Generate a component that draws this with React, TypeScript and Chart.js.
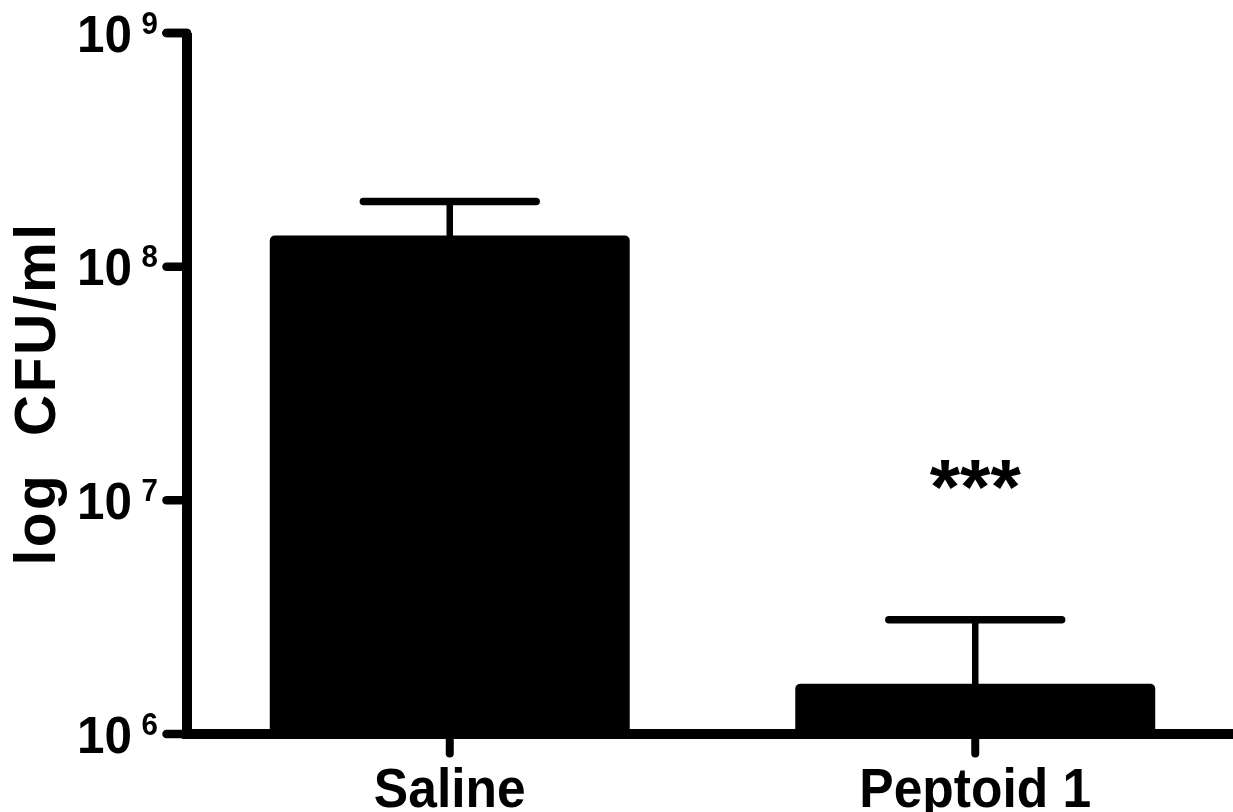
import React, { useEffect, useRef } from 'react';
import { Chart, registerables } from 'chart.js';

Chart.register(...registerables);

// ---- data ----
const categories = ['Saline', 'Peptoid 1'];
const meanValues = [1.36e8, 1.64e6];
const errorUpper = [1.9e8, 3.08e6];
const significance = ['', '***'];
const yTickValues = [1e6, 1e7, 1e8, 1e9];
const yTickBase = ['10', '10', '10', '10'];
const yTickExponents = ['6', '7', '8', '9'];
const yAxisTitle = 'log  CFU/ml';

const FONT = '"Liberation Sans", Arial, Helvetica, sans-serif';

function drawText(
  ctx: CanvasRenderingContext2D,
  text: string,
  x: number,
  y: number,
  size: number,
  align: CanvasTextAlign,
  sx = 0.9
) {
  ctx.save();
  ctx.translate(x, y);
  ctx.scale(sx, 1);
  ctx.font = `bold ${size}px ${FONT}`;
  ctx.textAlign = align;
  ctx.textBaseline = 'alphabetic';
  ctx.fillStyle = '#000';
  ctx.fillText(text, 0, 0);
  ctx.restore();
}

const prismPlugin = {
  id: 'prismStyle',
  afterDatasetsDraw(chart: any) {
    const ctx: CanvasRenderingContext2D = chart.ctx;
    const xs = chart.scales.x;
    const ys = chart.scales.y;
    const area = chart.chartArea;
    const meta = chart.getDatasetMeta(0);

    ctx.save();
    ctx.strokeStyle = '#000';
    // error bars
    meta.data.forEach((bar: any, i: number) => {
      const cx = bar.x;
      const yTop = bar.y;
      const yErr = ys.getPixelForValue(errorUpper[i]);
      const half = bar.width * 0.24;
      ctx.lineWidth = 6.5;
      ctx.lineCap = 'butt';
      ctx.beginPath();
      ctx.moveTo(cx, yTop + 2);
      ctx.lineTo(cx, yErr);
      ctx.stroke();
      ctx.lineWidth = 7.5;
      ctx.lineCap = 'round';
      ctx.beginPath();
      ctx.moveTo(cx - half, yErr);
      ctx.lineTo(cx + half, yErr);
      ctx.stroke();
    });

    const ax = area.left;
    const ay = area.bottom;
    // y ticks
    ctx.lineWidth = 8.5;
    ctx.lineCap = 'round';
    ctx.lineJoin = 'round';
    yTickValues.forEach((v) => {
      const py = ys.getPixelForValue(v);
      ctx.beginPath();
      ctx.moveTo(ax - 20.5, py);
      ctx.lineTo(ax, py);
      ctx.stroke();
    });
    // top corner
    ctx.beginPath();
    ctx.moveTo(ax - 20.5, area.top);
    ctx.lineTo(ax, area.top);
    ctx.lineTo(ax, area.top + 20);
    ctx.stroke();
    // y axis line
    ctx.lineWidth = 10;
    ctx.lineCap = 'butt';
    ctx.beginPath();
    ctx.moveTo(ax, area.top);
    ctx.lineTo(ax, ay);
    ctx.stroke();
    // x axis line
    ctx.beginPath();
    ctx.moveTo(ax - 5, ay);
    ctx.lineTo(chart.width + 5, ay);
    ctx.stroke();
    // x ticks
    ctx.lineWidth = 8;
    ctx.lineCap = 'round';
    categories.forEach((_, i) => {
      const px = xs.getPixelForValue(i);
      ctx.beginPath();
      ctx.moveTo(px, ay);
      ctx.lineTo(px, ay + 19.5);
      ctx.stroke();
    });
    ctx.restore();
  },
  afterDraw(chart: any) {
    const ctx: CanvasRenderingContext2D = chart.ctx;
    const xs = chart.scales.x;
    const ys = chart.scales.y;
    const area = chart.chartArea;

    // y tick labels
    yTickValues.forEach((v, i) => {
      const py = ys.getPixelForValue(v);
      drawText(ctx, yTickExponents[i], area.left - 29, py + 0.5, 31, 'right', 0.95);
      drawText(ctx, yTickBase[i], area.left - 55, py + 18.5, 52, 'right', 0.95);
    });

    // x labels
    categories.forEach((c, i) => {
      const px = xs.getPixelForValue(i);
      drawText(ctx, c, px, area.bottom + 72.5, 56, 'center', 0.92);
    });

    // significance
    significance.forEach((s, i) => {
      if (!s) return;
      const px = xs.getPixelForValue(i);
      const py = ys.getPixelForValue(errorUpper[i]) - 106;
      drawText(ctx, s, px, py, 78, 'center', 1);
    });

    // y title
    ctx.save();
    ctx.translate(55, (area.top + area.bottom) / 2 + 10);
    ctx.rotate(-Math.PI / 2);
    ctx.font = `bold 57px ${FONT}`;
    (ctx as any).letterSpacing = '2.5px';
    ctx.textAlign = 'center';
    ctx.textBaseline = 'alphabetic';
    ctx.fillStyle = '#000';
    ctx.fillText(yAxisTitle, 0, 0);
    ctx.restore();
  },
};

export default function App() {
  const ref = useRef<HTMLCanvasElement | null>(null);

  useEffect(() => {
    if (!ref.current) return;
    const chart = new Chart(ref.current, {
      type: 'bar',
      data: {
        labels: categories,
        datasets: [
          {
            data: meanValues,
            backgroundColor: '#000',
            borderWidth: 0,
            borderRadius: { topLeft: 5, topRight: 5, bottomLeft: 0, bottomRight: 0 },
            borderSkipped: 'bottom',
            barPercentage: 0.685,
            categoryPercentage: 1,
          },
        ],
      },
      options: {
        responsive: false,
        maintainAspectRatio: false,
        animation: false,
        layout: { padding: { left: 187, right: 2, top: 33, bottom: 78 } },
        plugins: { legend: { display: false }, tooltip: { enabled: false } },
        scales: {
          x: { type: 'category', display: false, offset: true, grid: { display: false } },
          y: { type: 'logarithmic', display: false, min: 1e6, max: 1e9 },
        },
      },
      plugins: [prismPlugin],
    });
    return () => chart.destroy();
  }, []);

  return (
    <div
      style={{
        position: 'fixed',
        left: 0,
        top: 0,
        width: 1233,
        height: 812,
        overflow: 'hidden',
        background: '#fff',
      }}
    >
      <canvas ref={ref} width={1240} height={812} style={{ display: 'block' }} />
    </div>
  );
}
